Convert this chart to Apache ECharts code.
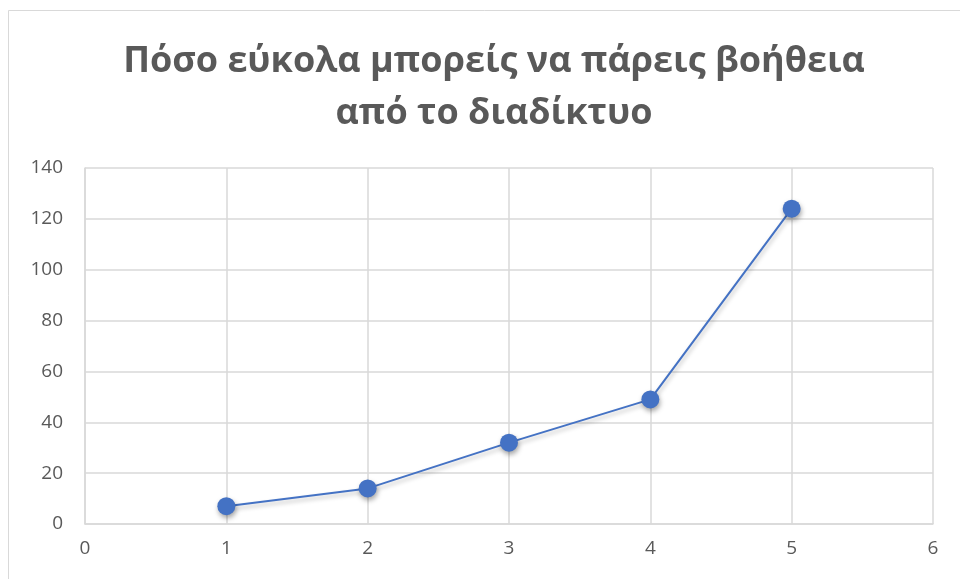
<!DOCTYPE html>
<html>
<head>
<meta charset="utf-8">
<script src="https://cdn.jsdelivr.net/npm/echarts@6/dist/echarts.min.js"></script>
<style>
  html, body { margin: 0; padding: 0; background: #fff; }
  #chart { width: 960px; height: 579px; }
</style>
</head>
<body>
<div id="chart"></div>
<script>
// Rating levels (x) and number of answers (y)
const levels = [1, 2, 3, 4, 5];
const answers = [7, 14, 32, 49, 124];
const titleLines = ['Πόσο εύκολα μπορείς να πάρεις βοήθεια', 'από το διαδίκτυο'];

const points = levels.map((x, i) => [x, answers[i]]);
const gridColor = '#d9d9d9';
const textColor = '#595959';
const fontFamily = 'Open Sans, Noto Sans, sans-serif';

const chart = echarts.init(document.getElementById('chart'), null, { renderer: 'canvas' });
chart.setOption({
  backgroundColor: '#fff',
  animation: false,
  graphic: [{
    type: 'rect',
    shape: { x: 8.5, y: 10.5, width: 1000, height: 1000 },
    style: { fill: 'none', stroke: '#d9d9d9', lineWidth: 1 },
    silent: true
  }],
  title: {
    text: titleLines.join('\n'),
    left: 489,
    textAlign: 'center',
    top: 31,
    textStyle: {
      fontFamily: fontFamily,
      fontWeight: 'bold',
      fontSize: 36,
      lineHeight: 52,
      color: textColor
    }
  },
  grid: { left: 85, right: 27, top: 168, bottom: 55 },
  xAxis: {
    type: 'value',
    min: 0, max: 6, interval: 1,
    axisLine: { show: true, lineStyle: { color: gridColor, width: 1.5 } },
    axisTick: { show: false },
    splitLine: { show: true, lineStyle: { color: gridColor, width: 1.5 } },
    axisLabel: { color: textColor, fontSize: 19, fontFamily: fontFamily, margin: 15 }
  },
  yAxis: {
    type: 'value',
    min: 0, max: 140, interval: 20,
    axisLine: { show: true, lineStyle: { color: gridColor, width: 1.5 } },
    axisTick: { show: false },
    splitLine: { show: true, lineStyle: { color: gridColor, width: 1.5 } },
    axisLabel: { color: textColor, fontSize: 19, fontFamily: fontFamily, margin: 22 }
  },
  series: [{
    type: 'line',
    data: points,
    symbol: 'circle',
    symbolSize: 18,
    lineStyle: {
      color: '#4472C4', width: 2,
      shadowColor: 'rgba(0,0,0,0.25)', shadowBlur: 4, shadowOffsetX: 1, shadowOffsetY: 3
    },
    itemStyle: {
      color: '#4472C4',
      shadowColor: 'rgba(0,0,0,0.35)', shadowBlur: 5, shadowOffsetX: 1, shadowOffsetY: 3
    }
  }]
});
</script>
</body>
</html>
